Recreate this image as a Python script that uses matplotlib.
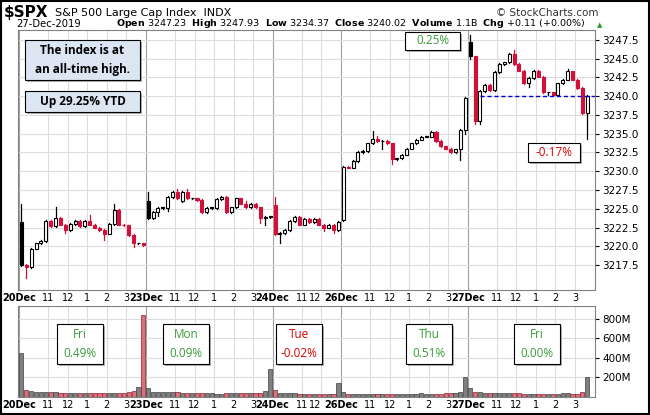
import matplotlib
matplotlib.use("Agg")
import matplotlib.pyplot as plt
from matplotlib.patches import Rectangle
import numpy as np

days = ["20", "23", "24", "26", "27"]
prev_close_start = 3205.4
# OHLC per 15-min bar (estimated)
opens = [
 3223.3,3217.5,3217.2,3219.7,3220.4,3220.7,3223.4,3222.7,3223.8,3222.9,3222.2,3223.0,3223.4,3222.7,3223.4,3222.9,3222.5,3222.2,3221.7,3223.0,3224.9,3222.9,3222.8,3221.5,3220.4,3220.4,
 3226.0,3223.8,3224.6,3225.1,3225.1,3226.6,3227.3,3226.0,3227.3,3226.4,3226.4,3226.2,3224.6,3225.1,3225.1,3226.3,3226.6,3224.6,3225.2,3226.4,3225.7,3225.2,3225.7,3225.2,3223.8,3223.9,
 3225.5,3221.6,3221.8,3222.2,3223.4,3223.9,3222.9,3223.7,3223.2,3223.7,3222.9,3222.5,3222.9,3222.2,
 3223.5,3230.6,3230.5,3231.4,3232.5,3232.7,3233.7,3234.3,3234.0,3234.0,3233.7,3231.6,3231.7,3232.2,3233.0,3233.7,3234.2,3234.6,3234.6,3235.2,3234.0,3233.3,3233.0,3232.5,3232.9,3235.5,
 3247.2,3245.3,3236.7,3240.7,3241.5,3240.8,3243.2,3244.3,3244.5,3245.6,3244.3,3243.4,3241.7,3242.4,3243.4,3242.6,3240.5,3240.5,3240.2,3241.7,3242.2,3243.3,3242.2,3241.1,3237.7]
closes = [
 3217.5,3217.3,3219.7,3220.4,3220.7,3223.4,3222.7,3223.8,3222.9,3222.2,3223.0,3223.4,3222.7,3223.4,3222.9,3222.5,3222.2,3221.7,3223.0,3224.9,3222.9,3222.8,3221.5,3220.4,3220.4,3220.2,
 3223.8,3224.6,3225.1,3225.1,3226.6,3227.3,3226.4,3227.3,3226.4,3226.4,3226.2,3224.6,3225.1,3225.1,3226.3,3226.6,3224.6,3225.2,3226.4,3225.7,3225.2,3225.7,3225.2,3223.8,3223.9,3224.0,
 3221.6,3221.8,3222.2,3223.4,3223.9,3222.9,3223.7,3223.2,3223.7,3222.9,3222.5,3222.9,3222.2,3223.3,
 3230.6,3230.5,3231.4,3232.5,3232.7,3233.7,3234.3,3234.0,3234.0,3233.7,3231.6,3231.7,3232.2,3233.0,3233.7,3234.2,3234.6,3234.6,3235.2,3234.0,3233.3,3233.0,3232.5,3232.9,3235.5,3239.8,
 3245.3,3236.7,3240.7,3241.5,3240.8,3243.2,3244.3,3244.5,3245.6,3244.3,3243.4,3241.7,3242.4,3243.4,3242.6,3240.5,3240.5,3240.2,3241.7,3242.2,3243.3,3242.2,3241.1,3237.7,3240.0]
highs_ext = [
 2.4,0.1,0.1,0.1,0.1,0.1,0.1,1.4,0.1,0.1,0.1,0.1,0.1,0.1,0.8,0.1,0.1,0.1,0.1,0.8,0.1,0.1,0.1,0.1,0.1,0.1,
 1.3,0.1,0.1,0.1,0.1,0.1,0.4,0.1,0.4,0.1,0.1,0.1,0.1,0.1,0.1,0.1,0.1,0.1,0.1,0.1,0.3,0.1,0.1,0.1,0.1,0.1,
 1.1,0.1,0.1,0.1,0.1,0.1,0.1,0.1,0.1,0.1,0.1,0.1,0.1,0.1,
 0.1,0.1,0.1,0.2,0.1,0.1,1.0,0.4,0.1,0.1,0.1,0.1,0.1,0.1,0.1,0.1,0.1,0.1,0.1,0.1,0.1,0.1,0.1,0.1,0.1,0.1,
 0.9,0.1,0.1,0.1,0.1,0.1,0.1,0.1,0.2,0.5,0.1,0.1,0.1,0.1,0.1,0.1,0.1,0.1,0.1,0.1,0.3,0.1,0.1,0.1,0.1]
lows_ext = [
 0.1,1.5,0.1,0.1,0.1,0.1,0.1,0.1,0.1,0.4,0.1,0.1,0.1,0.1,0.1,0.1,0.1,0.8,0.1,0.1,0.1,0.1,0.1,0.5,0.1,0.1,
 0.2,0.1,0.5,0.1,0.4,0.1,0.1,0.1,0.1,0.1,0.1,0.1,0.1,0.1,0.1,0.1,0.1,0.1,0.1,0.1,0.1,0.1,0.1,0.7,1.0,0.1,
 0.1,1.2,0.1,0.1,0.1,0.1,0.1,0.1,0.1,0.1,0.4,0.1,0.4,0.1,
 0.1,0.1,0.1,0.1,0.1,0.1,0.1,0.1,1.0,0.1,0.6,0.1,0.1,0.1,0.1,0.1,0.1,0.1,0.1,0.1,0.1,0.1,0.1,0.1,1.4,0.6,
 0.4,0.4,0.4,0.1,0.1,0.1,0.1,0.1,0.1,0.1,0.1,0.1,0.5,0.1,0.1,0.1,0.4,0.1,0.1,0.1,0.1,0.1,0.1,0.1,3.4]
volumes = [
 453,75,65,55,50,55,50,50,45,45,40,40,40,45,40,40,40,40,40,40,45,45,50,60,100,843,
 90,55,55,50,50,50,50,45,45,40,40,45,40,40,35,35,40,40,40,40,40,40,40,45,60,283,
 70,45,40,40,40,35,35,35,35,35,35,35,35,140,
 50,35,35,35,35,35,35,35,35,35,35,30,30,30,35,35,40,35,35,35,35,40,40,40,50,203,
 90,50,50,45,45,40,40,40,40,40,40,35,35,35,35,35,35,35,35,40,40,35,35,50,200]
day_len = [26, 26, 14, 26, 25]
hour_labels = ["11", "12", "1", "2", "3"]
hour_offsets = [6, 10, 14, 18, 22]
day_pcts = ["0.49%", "0.09%", "-0.02%", "0.51%", "0.00%"]
day_names = ["Fri", "Mon", "Tue", "Thu", "Fri"]

n = len(closes)
x = np.arange(n)
highs = [max(o, c) + h for o, c, h in zip(opens, closes, highs_ext)]
lows = [min(o, c) - l for o, c, l in zip(opens, closes, lows_ext)]

W, H = 650, 415
fig = plt.figure(figsize=(6.5, 4.15), dpi=100)
def fx(px): return px / W
def fy(py): return 1 - py / H

axp = fig.add_axes([fx(18), fy(290), fx(595 - 18), (290 - 30) / H])
axv = fig.add_axes([fx(18), fy(397), fx(595 - 18), (397 - 306) / H])

RED = "#d2103a"
starts = np.cumsum([0] + day_len[:-1])
tickpos, ticklab, major, tight = [], [], [], []
for d, s in enumerate(starts):
    tickpos.append(s); ticklab.append(days[d] + "Dec"); major.append(True); tight.append(False)
    for hl, ho in zip(hour_labels, hour_offsets):
        if ho < day_len[d] and (d != 2 or ho <= 10):
            tickpos.append(s + ho); ticklab.append(hl); major.append(False)
            tight.append(d == 2 and ho == 10)

for ax in (axp, axv):
    ax.set_xlim(-0.7, n + 0.6)
    for t, m in zip(tickpos, major):
        ax.axvline(t - 0.5, color="#a0a0a0" if m else "#dcdcdc", lw=0.8, zorder=0)
    ax.set_xticks(np.array(tickpos) - 0.5)
    ax.set_xticklabels(ticklab, fontsize=7)
    for lab, m, tg in zip(ax.get_xticklabels(), major, tight):
        if m:
            lab.set_fontweight("bold")
        if tg:
            lab.set_horizontalalignment("right")
    ax.tick_params(axis="x", length=0, pad=2)
    ax.yaxis.tick_right()
    ax.tick_params(axis="y", labelsize=7.5, length=3, pad=2)
    ax.grid(axis="y", color="#dcdcdc", lw=0.8)
    ax.set_axisbelow(True)
    for sp in ax.spines.values():
        sp.set_color("#808080")

bw = 0.62
for i in x:
    o, c, h, l = opens[i], closes[i], highs[i], lows[i]
    prev = closes[i - 1] if i > 0 else prev_close_start
    col = RED if c < prev else "black"
    axp.plot([i, i], [l, h], color=col, lw=0.9, zorder=2)
    lo, hi = min(o, c), max(o, c)
    hollow = c > o
    axp.add_patch(Rectangle((i - bw / 2, lo), bw, max(hi - lo, 0.08),
                            facecolor="white" if hollow else col, edgecolor=col, lw=0.8, zorder=3))
    vcol = "#d9707c" if c < prev else "#808080"
    axv.bar(i, volumes[i], width=0.85, color=vcol, edgecolor="#404040" if vcol == "#808080" else "#8a2030", lw=0.5, zorder=2)

axp.set_ylim(3214.2, 3248.8)
axp.set_yticks(np.arange(3217.5, 3248, 2.5))
axp.set_yticklabels([f"{v:.1f}" for v in np.arange(3217.5, 3248, 2.5)])
s27 = starts[4]
axp.plot([s27 + 2, n + 0.6], [3240.02, 3240.02], color="#0000cc", ls=(0, (3, 2)), lw=1, zorder=4)

axv.set_ylim(0, 930)
axv.set_yticks([200, 400, 600, 800])
axv.set_yticklabels(["200M", "400M", "600M", "800M"])

# header
fig.text(fx(4), fy(13), "$SPX", fontsize=11, fontweight="bold", va="center")
fig.text(fx(55), fy(13), "S&P 500 Large Cap Index  INDX", fontsize=8, va="center")
fig.text(fx(598), fy(13), "© StockCharts.com", fontsize=7.5, va="center", ha="right", color="#333333")
fig.text(fx(16), fy(24), "27-Dec-2019", fontsize=7.2, va="center")
fig.text(fx(116), fy(24), r"$\bf{Open}$ 3247.23  $\bf{High}$ 3247.93  $\bf{Low}$ 3234.37  $\bf{Close}$ 3240.02  $\bf{Volume}$ 1.1B  $\bf{Chg}$ +0.11 (+0.00%)",
         fontsize=6.8, va="center")
fig.text(fx(597), fy(25), "▲", fontsize=5, color="#2a9a2a", va="center")

GREEN = "#3a9a3a"
def box(px, py, w, h, txt, color="black", fc="white", fs=9, bold=False):
    fig.patches.append(Rectangle((fx(px + 2), fy(py + h + 2)), w / W, h / H, transform=fig.transFigure,
                                 facecolor="#b0b0b0", edgecolor="none", zorder=5))
    fig.patches.append(Rectangle((fx(px), fy(py + h)), w / W, h / H, transform=fig.transFigure,
                                 facecolor=fc, edgecolor="black", lw=0.8, zorder=6))
    fig.text(fx(px + w / 2), fy(py + h / 2), txt, ha="center", va="center", fontsize=fs,
             color=color, fontweight="bold" if bold else "normal", zorder=7, linespacing=1.6,
             family="Open Sans")

box(25, 40, 115, 40, "The index is at\nan all-time high.", fc="#dce6f2", fs=8.5, bold=True)
box(25, 91, 115, 21, "Up 29.25% YTD", fc="#dce6f2", fs=8.5, bold=True)
box(405, 32, 55, 18, "0.25%", color=GREEN, fs=8.5)
box(528, 143, 52, 19, "-0.17%", color="#e00000", fs=8.5)
for cx, nm, pct in zip([79, 185, 298, 428, 536], day_names, day_pcts):
    col = "#e00000" if pct.startswith("-") else GREEN
    box(cx - 22, 324, 46, 40, nm + "\n" + pct, color=col, fs=8.5)

fig.patches.append(Rectangle((0.001, 0.002), 0.997, 0.996, transform=fig.transFigure,
                             facecolor="none", edgecolor="black", lw=1.5, zorder=10))
fig.savefig("out.png", dpi=100)
